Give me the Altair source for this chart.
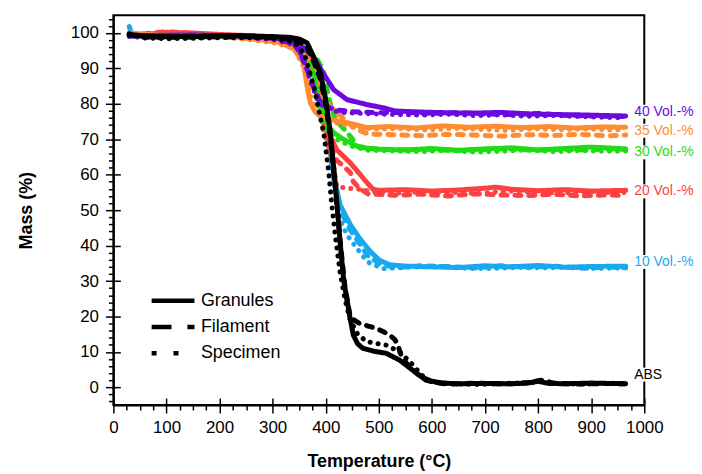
import altair as alt
import pandas as pd

FONT = "Liberation Sans"

GROUPS = ["10 Vol.-%", "20 Vol.-%", "30 Vol.-%", "35 Vol.-%", "40 Vol.-%", "ABS"]
COLORS = ["#19A8F0", "#FF4040", "#1EDC14", "#FF8C32", "#6A0AE0", "#000000"]
FORMS = ["Granules", "Filament", "Specimen"]
LINE_DASHES = [[1, 0], [6, 8], [0.1, 8]]
LEGEND_DASHES = [[1, 0], [20, 16], [5, 17]]

# ---- ABS ----
ABS_G_T = [30, 60, 100, 150, 200, 250, 300, 330, 350, 365, 377, 390, 399, 408, 415, 421, 427, 434, 446, 452, 460, 470, 490, 514, 539, 564, 589, 620, 650, 700, 750, 780, 800, 820, 850, 900, 965]
ABS_G_M = [99.6, 99.1, 99.0, 99.0, 99.2, 99.2, 99.0, 98.8, 98.3, 97.2, 93.3, 88.7, 82.0, 72.8, 62.0, 52.0, 41.0, 30.0, 19.4, 14.7, 12.3, 11.0, 10.2, 9.6, 7.7, 4.8, 2.0, 1.2, 1.0, 1.1, 1.0, 1.2, 1.7, 1.1, 1.0, 1.2, 1.0]
ABS_F_T = [30, 60, 100, 150, 200, 250, 300, 330, 350, 365, 377, 390, 399, 408, 415, 421, 427, 436, 446, 455, 464, 480, 496, 510, 521, 530, 536, 542, 556, 575, 600, 630, 680, 730, 780, 805, 830, 880, 930, 965]
ABS_F_M = [99.4, 98.9, 98.8, 98.9, 99.0, 99.0, 98.7, 98.4, 97.6, 96.0, 92.0, 87.0, 80.5, 71.5, 61.0, 51.5, 41.5, 28.5, 20.0, 18.8, 18.0, 17.3, 16.6, 15.6, 14.7, 13.5, 11.9, 9.0, 6.0, 3.5, 1.5, 0.9, 1.2, 0.9, 1.3, 2.0, 1.2, 0.9, 1.1, 1.0]
ABS_S_T = [30, 60, 100, 150, 200, 250, 300, 340, 360, 371, 380, 390, 396, 405, 411, 418, 427, 436, 446, 460, 477, 495, 514, 539, 560, 580, 600, 640, 690, 740, 790, 810, 840, 890, 940, 965]
ABS_S_M = [99.8, 98.6, 98.4, 98.5, 98.7, 98.7, 98.5, 97.5, 94.0, 88.3, 83.4, 76.0, 72.0, 61.5, 52.0, 42.7, 32.5, 25.0, 19.0, 15.0, 12.9, 12.4, 11.9, 10.0, 7.0, 3.5, 1.5, 1.0, 0.8, 1.1, 1.4, 1.8, 1.0, 0.9, 1.2, 1.0]

# ---- 10 Vol.-% ----
B10_G_T = [30, 35, 60, 100, 150, 200, 250, 300, 340, 360, 375, 390, 402, 415, 427, 446, 464, 483, 500, 520, 550, 600, 650, 700, 750, 800, 850, 900, 965]
B10_G_M = [101.8, 99.5, 99.2, 99.3, 99.3, 99.3, 99.2, 98.7, 97.6, 95.5, 91.0, 84.0, 72.8, 60.0, 51.5, 46.0, 42.0, 38.5, 36.0, 34.6, 34.2, 34.0, 33.8, 34.3, 34.0, 34.4, 33.9, 34.1, 34.2]
B10_F_T = [30, 60, 100, 150, 200, 250, 300, 340, 360, 375, 390, 403, 415, 427, 446, 464, 480, 500, 530, 580, 630, 680, 730, 780, 830, 880, 930, 965]
B10_F_M = [99.6, 99.0, 99.1, 99.2, 99.2, 99.1, 98.5, 97.2, 94.8, 90.0, 82.5, 71.0, 58.7, 50.0, 44.5, 40.5, 37.0, 35.0, 33.8, 34.3, 34.1, 33.7, 34.3, 33.9, 34.2, 33.6, 34.0, 33.8]
B10_S_T = [30, 60, 100, 150, 200, 250, 300, 340, 360, 375, 390, 405, 415, 425, 440, 460, 470, 483, 510, 560, 610, 660, 710, 760, 810, 860, 910, 965]
B10_S_M = [99.9, 98.7, 98.6, 98.8, 98.9, 98.8, 98.3, 96.8, 94.0, 88.5, 80.0, 70.0, 56.0, 48.0, 43.0, 39.0, 37.0, 35.0, 33.5, 33.9, 34.2, 33.6, 33.5, 33.8, 33.7, 33.9, 33.5, 33.7]

# ---- 20 Vol.-% ----
R20_G_T = [30, 60, 100, 150, 200, 250, 300, 340, 360, 375, 388, 397, 408, 421, 446, 477, 489, 500, 550, 600, 650, 700, 720, 750, 800, 850, 900, 965]
R20_G_M = [99.8, 99.6, 100.2, 100.0, 99.6, 99.3, 98.8, 97.2, 95.0, 91.5, 84.0, 77.0, 71.0, 67.0, 63.4, 57.9, 55.9, 55.6, 55.8, 55.4, 55.7, 56.2, 56.5, 55.9, 55.5, 55.8, 55.4, 55.6]
R20_F_T = [30, 60, 100, 150, 200, 250, 300, 340, 360, 371, 380, 390, 396, 405, 421, 446, 452, 465, 480, 530, 580, 630, 680, 730, 780, 830, 880, 930, 965]
R20_F_M = [99.5, 99.8, 100.4, 99.9, 99.5, 99.1, 98.5, 96.8, 94.5, 92.4, 85.5, 79.5, 74.5, 69.0, 64.0, 60.7, 58.0, 56.0, 54.6, 54.2, 54.5, 54.0, 54.6, 54.3, 54.1, 54.5, 54.0, 54.3, 54.1]
R20_S_T = [30, 60, 100, 150, 200, 250, 300, 340, 360, 371, 380, 390, 395, 405, 415, 421, 440, 458, 490, 540, 590, 640, 690, 740, 790, 840, 890, 940, 965]
R20_S_M = [99.3, 99.4, 99.9, 99.7, 99.3, 98.9, 98.2, 96.2, 94.0, 91.5, 84.8, 79.2, 72.8, 67.5, 62.4, 56.7, 56.2, 56.0, 55.2, 54.8, 55.3, 55.0, 54.7, 55.4, 55.1, 54.8, 55.2, 54.9, 55.0]

# ---- 30 Vol.-% ----
G30_G_T = [30, 60, 100, 150, 200, 250, 300, 340, 358, 377, 386, 393, 405, 415, 430, 446, 464, 500, 550, 600, 650, 700, 750, 800, 850, 900, 965]
G30_G_M = [99.5, 99.0, 98.9, 99.0, 99.0, 98.7, 98.2, 97.4, 96.0, 89.6, 83.0, 79.0, 73.6, 71.9, 70.3, 69.0, 67.7, 67.2, 67.0, 67.4, 66.9, 67.3, 67.6, 67.0, 67.4, 67.8, 67.3]
G30_F_T = [30, 60, 100, 150, 200, 250, 300, 340, 360, 380, 395, 408, 418, 440, 461, 490, 540, 590, 640, 690, 740, 790, 840, 890, 940, 965]
G30_F_M = [99.3, 98.8, 98.7, 98.8, 98.9, 98.6, 98.1, 97.2, 96.0, 93.5, 89.6, 80.3, 75.6, 72.0, 68.0, 67.3, 67.0, 67.2, 66.8, 67.1, 67.4, 66.9, 67.2, 67.0, 67.3, 67.1]
G30_S_T = [30, 60, 100, 150, 200, 250, 300, 340, 360, 375, 385, 392, 400, 420, 450, 480, 530, 580, 630, 680, 730, 780, 830, 880, 930, 965]
G30_S_M = [99.2, 98.6, 98.5, 98.6, 98.7, 98.4, 97.8, 96.8, 94.0, 88.0, 80.0, 75.6, 73.0, 70.0, 68.0, 66.9, 66.7, 66.5, 66.9, 66.4, 66.6, 67.0, 66.5, 66.8, 66.6, 66.7]

# ---- 35 Vol.-% ----
O35_G_T = [30, 60, 100, 150, 200, 250, 300, 315, 340, 358, 365, 371, 380, 390, 415, 440, 477, 520, 570, 620, 670, 720, 770, 820, 870, 920, 965]
O35_G_M = [100.0, 99.6, 99.4, 99.5, 99.3, 98.6, 97.8, 97.2, 95.5, 91.6, 84.8, 80.3, 77.8, 76.4, 75.4, 74.7, 73.3, 73.6, 73.2, 73.8, 73.4, 73.7, 73.3, 73.6, 73.2, 73.5, 73.4]
O35_F_T = [30, 60, 100, 150, 200, 250, 300, 340, 360, 384, 395, 408, 421, 440, 458, 480, 530, 580, 630, 680, 730, 780, 830, 880, 930, 965]
O35_F_M = [99.8, 99.4, 99.2, 99.3, 99.1, 98.5, 97.6, 96.5, 94.5, 89.6, 82.0, 79.5, 77.5, 75.0, 72.8, 71.5, 71.3, 71.0, 71.4, 71.2, 70.9, 71.3, 71.1, 71.4, 71.0, 71.2]
O35_S_T = [30, 60, 100, 150, 200, 250, 300, 340, 360, 372, 385, 410, 450, 490, 540, 590, 640, 690, 740, 790, 840, 890, 940, 965]
O35_S_M = [99.6, 99.2, 99.0, 99.1, 98.9, 98.2, 97.3, 95.8, 90.0, 82.0, 77.0, 75.0, 73.5, 72.9, 73.0, 72.6, 73.1, 72.8, 72.5, 73.0, 72.7, 72.9, 72.6, 72.8]

# ---- 40 Vol.-% ----
P40_G_T = [30, 60, 100, 150, 200, 250, 300, 340, 360, 377, 395, 415, 440, 477, 508, 530, 580, 630, 680, 730, 780, 830, 880, 930, 965]
P40_G_M = [99.4, 99.3, 99.4, 99.5, 99.3, 99.2, 98.8, 97.5, 95.5, 93.3, 88.7, 84.0, 81.2, 79.8, 78.9, 78.0, 77.7, 77.5, 77.4, 77.6, 77.2, 77.0, 76.9, 76.7, 76.6]
P40_F_T = [30, 60, 100, 150, 200, 250, 300, 340, 352, 365, 377, 390, 415, 450, 500, 550, 600, 650, 700, 750, 800, 850, 900, 965]
P40_F_M = [99.2, 99.0, 99.1, 99.2, 99.0, 98.9, 98.5, 97.0, 94.3, 89.6, 84.8, 80.3, 78.4, 77.8, 77.5, 77.6, 77.3, 77.5, 77.2, 77.0, 77.3, 76.8, 76.6, 76.4]
P40_S_T = [30, 60, 100, 150, 200, 250, 300, 345, 360, 372, 385, 400, 430, 480, 530, 580, 630, 680, 730, 780, 830, 880, 930, 965]
P40_S_M = [99.0, 98.8, 98.9, 99.0, 98.8, 98.7, 98.2, 96.5, 92.0, 86.0, 81.0, 78.5, 77.6, 77.2, 77.0, 76.8, 77.1, 76.7, 76.9, 76.5, 76.7, 76.4, 76.2, 76.0]

# ---- right-hand labels ----
LABEL_TEXT = ["40 Vol.-%", "35 Vol.-%", "30 Vol.-%", "20 Vol.-%", "10 Vol.-%", "ABS"]
LABEL_MASS = [77.8, 72.4, 66.3, 55.3, 35.4, 3.6]
LABEL_TEMP = [981, 981, 981, 981, 981, 981]

X_TICKS = list(range(0, 1001, 25))
Y_TICKS = list(range(-4, 105, 2))
X_MAJOR = list(range(0, 1001, 100))
Y_MAJOR = list(range(0, 101, 10))

curves = [
    ("10 Vol.-%", "Granules", B10_G_T, B10_G_M),
    ("10 Vol.-%", "Filament", B10_F_T, B10_F_M),
    ("10 Vol.-%", "Specimen", B10_S_T, B10_S_M),
    ("20 Vol.-%", "Granules", R20_G_T, R20_G_M),
    ("20 Vol.-%", "Filament", R20_F_T, R20_F_M),
    ("20 Vol.-%", "Specimen", R20_S_T, R20_S_M),
    ("30 Vol.-%", "Granules", G30_G_T, G30_G_M),
    ("30 Vol.-%", "Filament", G30_F_T, G30_F_M),
    ("30 Vol.-%", "Specimen", G30_S_T, G30_S_M),
    ("35 Vol.-%", "Granules", O35_G_T, O35_G_M),
    ("35 Vol.-%", "Filament", O35_F_T, O35_F_M),
    ("35 Vol.-%", "Specimen", O35_S_T, O35_S_M),
    ("40 Vol.-%", "Granules", P40_G_T, P40_G_M),
    ("40 Vol.-%", "Filament", P40_F_T, P40_F_M),
    ("40 Vol.-%", "Specimen", P40_S_T, P40_S_M),
    ("ABS", "Granules", ABS_G_T, ABS_G_M),
    ("ABS", "Filament", ABS_F_T, ABS_F_M),
    ("ABS", "Specimen", ABS_S_T, ABS_S_M),
]
rows = []
for g, f, ts, ms in curves:
    for i, (t, m) in enumerate(zip(ts, ms)):
        rows.append({"group": g, "form": f, "curve": g + "|" + f, "idx": i, "T": t, "M": m})
df = pd.DataFrame(rows)

lab_df = pd.DataFrame({"label": LABEL_TEXT, "group": LABEL_TEXT, "T": LABEL_TEMP, "M": LABEL_MASS})
empty_df = pd.DataFrame({"T": pd.Series([], dtype=float), "M": pd.Series([], dtype=float),
                         "form": pd.Series([], dtype=str)})

color_scale = alt.Scale(domain=GROUPS, range=COLORS)
x_scale = alt.Scale(domain=[0, 1000], nice=False, zero=False)
y_scale = alt.Scale(domain=[-5, 105], nice=False, zero=False)

x_main = alt.X("T:Q", title="Temperature (°C)", scale=x_scale,
               axis=alt.Axis(values=X_TICKS, format="d", orient="bottom",
                             labelExpr="datum.value % 100 === 0 ? datum.label : ''",
                             tickSize={"condition": {"test": "datum.value % 100 === 0", "value": 8}, "value": 5},
                             labelFlush=False, labelOverlap=False, labelPadding=7, titlePadding=17))
y_main = alt.Y("M:Q", title="Mass (%)", scale=y_scale,
               axis=alt.Axis(values=Y_TICKS, format="d", orient="left",
                             labelExpr="(datum.value % 10 === 0 && datum.value >= 0) ? datum.label : ''",
                             tickSize={"condition": {"test": "datum.value % 10 === 0", "value": 8}, "value": 5},
                             labelOverlap=False, labelPadding=7, titlePadding=35))
# inward half of the major ticks
x_inner = alt.X("T:Q", scale=x_scale,
                axis=alt.Axis(values=X_MAJOR, orient="bottom", offset=-7, tickSize=7, labels=False,
                              domain=False, title=None, grid=False))
y_inner = alt.Y("M:Q", scale=y_scale,
                axis=alt.Axis(values=Y_MAJOR, orient="left", offset=-7, tickSize=7, labels=False,
                              domain=False, title=None, grid=False))
x_plain = alt.X("T:Q", scale=x_scale, axis=None)
y_plain = alt.Y("M:Q", scale=y_scale, axis=None)

lines = alt.Chart(df).mark_line(strokeWidth=5, strokeCap="round", strokeJoin="round").encode(
    x=x_main,
    y=y_main,
    color=alt.Color("group:N", scale=color_scale, legend=None),
    strokeDash=alt.StrokeDash("form:N", scale=alt.Scale(domain=FORMS, range=LINE_DASHES), legend=None),
    detail="curve:N",
    order="idx:Q",
)

inner_ticks = alt.Chart(empty_df).mark_point(opacity=0).encode(x=x_inner, y=y_inner)

legend_layer = alt.Chart(empty_df).mark_line(strokeWidth=5).encode(
    x=x_plain,
    y=y_plain,
    strokeDash=alt.StrokeDash("form:N", scale=alt.Scale(domain=FORMS, range=LEGEND_DASHES),
                              legend=alt.Legend(title=None, orient="none", legendX=51, legendY=278,
                                                symbolType="M-4,0H4", symbolSize=116,
                                                symbolStrokeWidth=4.5, symbolStrokeColor="black",
                                                labelFont=FONT, labelFontSize=18, labelColor="black",
                                                labelOffset=19, rowPadding=8.5)),
)

# white patches that break the right frame behind the labels
label_gaps = alt.Chart(lab_df).transform_calculate(edge="1000").mark_point(
    shape="M-0.35,-1H0.35V1H-0.35Z", size=196, filled=True, color="white", opacity=1, strokeWidth=0
).encode(x=alt.X("edge:Q", scale=x_scale, axis=None), y=y_plain)

labels = alt.Chart(lab_df).mark_text(align="left", baseline="middle", fontSize=14, font=FONT).encode(
    x=x_plain, y=y_plain, text="label:N",
    color=alt.Color("group:N", scale=color_scale, legend=None),
)

chart = alt.layer(lines, inner_ticks, legend_layer, label_gaps, labels).resolve_scale(
    strokeDash="independent"
).resolve_axis(x="independent", y="independent").properties(
    width=534, height=392,
    padding={"left": 9, "top": 0, "right": 0, "bottom": 0},
).configure_view(stroke="black", strokeWidth=2).configure_axis(
    grid=False, domainColor="black", domainWidth=2, tickColor="black", tickWidth=1.5,
    labelFont=FONT, labelFontSize=17, labelColor="black",
    titleFont=FONT, titleFontSize=18, titleFontWeight="bold", titleColor="black",
)

chart.save("out.html", embed_options={"renderer": "svg", "actions": False})
